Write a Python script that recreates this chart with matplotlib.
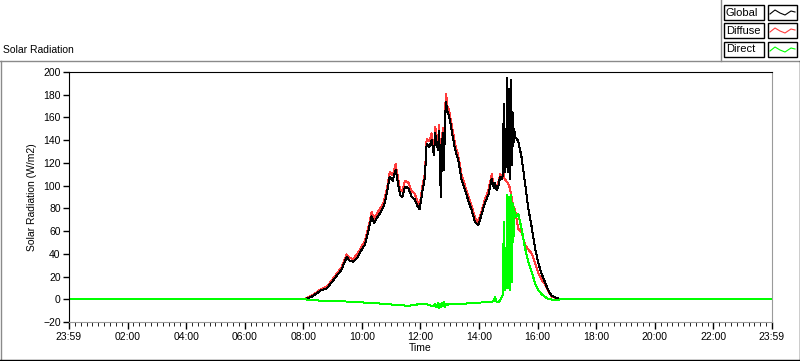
import matplotlib
matplotlib.use('Agg')
import matplotlib.pyplot as plt
from matplotlib.lines import Line2D
from matplotlib.patches import Rectangle

# time of day in hours, readings in W/m2
hours = [0.00, 8.00, 8.15, 8.30, 8.45, 8.60, 8.80, 9.00, 9.15, 9.30, 9.48, 9.58, 9.70, 9.85,
         10.00, 10.10, 10.22, 10.33, 10.42, 10.52, 10.65, 10.75, 10.85, 10.95, 11.05, 11.15,
         11.22, 11.30, 11.38, 11.47, 11.58, 11.70, 11.80, 11.90, 11.97, 12.07, 12.15, 12.21,
         12.30, 12.38, 12.46, 12.50, 12.55, 12.60, 12.64, 12.67, 12.70, 12.73, 12.76, 12.80,
         12.84, 12.87, 12.92, 12.98, 13.06, 13.18, 13.29, 13.40, 13.52, 13.63, 13.75, 13.86,
         13.97, 14.09, 14.20, 14.32, 14.43, 14.50, 14.54, 14.60, 14.66, 14.72, 14.77, 14.80,
         14.82, 14.84, 14.87, 14.90, 14.93, 14.96, 14.99, 15.02, 15.05, 15.08, 15.11, 15.14,
         15.17, 15.20, 15.23, 15.34, 15.45, 15.57, 15.68, 15.80, 15.91, 16.02, 16.14, 16.25,
         16.36, 16.48, 16.65, 16.80, 24.00]

global_rad = [0, 0, 1, 2.5, 5, 8, 9.5, 16, 21, 26, 37, 34, 33, 37,
              44, 48, 60, 73, 67, 72, 77, 82, 93, 108, 104, 114,
              104, 92, 90, 99, 98, 90, 88, 82, 79, 96, 107, 137,
              134, 140, 127, 146, 138, 131, 148, 108, 90, 130, 146, 114,
              160, 174, 165, 161, 149, 132, 122, 105, 96, 87, 78, 68,
              65, 75, 85, 92, 106, 98, 102, 96, 100, 108, 106, 108,
              118, 172, 112, 150, 116, 195, 112, 185, 106, 193, 118, 165,
              135, 150, 143, 139, 125, 102, 80, 63, 45, 32, 22, 15,
              8, 3, 1, 0, 0]

diffuse_rad = [0, 0, 1.5, 3.5, 6, 9, 11, 17.5, 23, 28, 39.5, 36.5, 35.5, 40,
               47, 51, 63, 77, 71, 76, 81, 86, 97, 112, 109, 119,
               109, 97, 95, 104, 103, 95, 93, 86, 83, 100, 111, 141,
               139, 146, 132, 152, 144, 137, 153, 114, 96, 136, 151, 120,
               166, 181, 170, 166, 154, 137, 126, 110, 100, 91, 82, 72,
               68, 78, 88, 96, 110, 101, 101, 99, 103, 110, 108, 110,
               114, 112, 106, 105, 104, 103, 102, 100, 98, 94, 90, 85,
               82, 80, 78, 62, 59, 48, 44, 40, 32, 23, 17, 13,
               7, 2.5, 1, 0, 0]

direct_rad = [0, 0, -0.3, -0.6, -1, -1.2, -1.2, -1.5, -1.6, -1.7, -2, -2, -2.2, -2.5,
              -2.6, -3, -3.2, -3.5, -3.5, -3.6, -3.8, -4, -4.2, -4.5, -4.7, -4.8,
              -5, -5.2, -5.4, -5.5, -5.6, -5.4, -5, -4.5, -4.2, -4.2, -4.4, -4.5,
              -5, -6, -6, -4, -7, -3, -8, -4, -7, -3, -6, -2,
              -7, -4, -5, -4.5, -4.5, -4.3, -4, -4, -3.8, -3.6, -3.3, -3.2,
              -3, -2.8, -2.6, -2.4, -2.3, -1.5, 2, -2, -2.3, -1, 1.5, 3,
              10, 68, 8, 45, 10, 92, 10, 90, 8, 92, 15, 85,
              50, 80, 72, 75, 62, 45, 33, 24, 14, 8, 4.5, 2,
              0.5, -0.3, -0.5, 0, 0]

tick_hours = list(range(0, 25, 2))
tick_labels = ['23:59', '02:00', '04:00', '06:00', '08:00', '10:00', '12:00',
               '14:00', '16:00', '18:00', '20:00', '22:00', '23:59']
series_names = ['Global', 'Diffuse', 'Direct']
series_colors = ['#000000', '#ff3c3c', '#00ff00']

W, H = 800, 361
plt.rcParams['font.family'] = ['Liberation Sans', 'DejaVu Sans']
fig = plt.figure(figsize=(W / 100, H / 100), dpi=100)


def fx(x):
    return x / W


def fy(y):
    return 1 - y / H


ax = fig.add_axes([fx(69), fy(322), fx(772) - fx(69), fy(72) - fy(322)])
# LabVIEW-like crisp 1px traces
ax.plot(hours, diffuse_rad, color=series_colors[1], lw=0.72, antialiased=False)
ax.plot(hours, global_rad, color=series_colors[0], lw=0.72, antialiased=False)
ax.plot(hours, direct_rad, color=series_colors[2], lw=0.72, antialiased=False)

ax.set_xlim(0, 24)
ax.set_ylim(-20, 200)
ax.set_yticks(range(-20, 201, 20))
ax.set_xticks(tick_hours)
ax.set_xticklabels(tick_labels)
ax.set_xticks([h / 5 for h in range(0, 121)], minor=True)
ax.tick_params(axis='both', labelsize=7.5, colors='black', width=1)
ax.tick_params(axis='y', length=4, pad=2)
ax.tick_params(axis='x', which='major', length=5, pad=2)
ax.tick_params(axis='x', which='minor', length=3)
for side in ['left', 'top']:
    ax.spines[side].set_color('black')
for side in ['right', 'bottom']:
    ax.spines[side].set_color('#9a9a9a')
ax.set_xlabel('Time', fontsize=7.5, labelpad=1)
ax.set_ylabel('Solar Radiation (W/m2)', fontsize=7.5, labelpad=4)

# panel frame and title
fig.add_artist(Line2D([0, 1], [fy(61), fy(61)], color='#8a8a8a', lw=1))
fig.add_artist(Line2D([fx(0.5), fx(0.5)], [fy(61), fy(360)], color='#8a8a8a', lw=1))
fig.add_artist(Line2D([0, 1], [fy(360), fy(360)], color='black', lw=1))
fig.add_artist(Line2D([fx(799.5), fx(799.5)], [fy(61), fy(360)], color='black', lw=1))
fig.text(fx(3), fy(50), 'Solar Radiation', fontsize=7.5, va='center', ha='left')

# legend
fig.add_artist(Line2D([fx(720.5), fx(720.5)], [fy(0), fy(61)], color='#8a8a8a', lw=1))
row_tops = [5, 23, 42]
for name, color, top in zip(series_names, series_colors, row_tops):
    fig.add_artist(Rectangle((fx(723.5), fy(top + 15)), fx(40), fy(0) - fy(15),
                             fill=False, edgecolor='black', lw=1))
    fig.add_artist(Rectangle((fx(767.5), fy(top + 15)), fx(29), fy(0) - fy(15),
                             fill=False, edgecolor='black', lw=1))
    fig.text(fx(726), fy(top + 7.5), name, fontsize=8, va='center', ha='left')
    zx = [770, 775, 780, 785, 791, 795]
    zy = [top + 9, top + 5, top + 8, top + 10, top + 6, top + 7]
    fig.add_artist(Line2D([fx(v) for v in zx], [fy(v) for v in zy], color=color, lw=0.8))

fig.savefig('out.png', dpi=100, facecolor='white')
